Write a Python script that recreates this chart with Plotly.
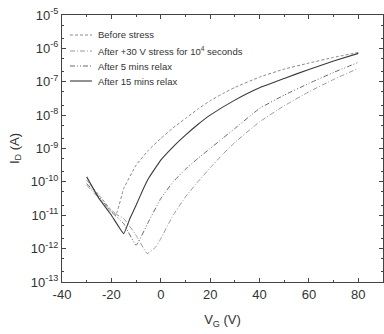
import plotly.graph_objects as go

# Gate voltage (V) and log10 drain current (A) for each curve
v_before = [-30, -25, -20, -18, -15, -10, -5, 0, 5, 10, 15, 20, 25, 30, 40, 50, 60, 70, 80]
logi_before = [-9.95, -10.4, -10.85, -10.95, -10.2, -9.5, -9.05, -8.7, -8.38, -8.1, -7.82, -7.57,
               -7.36, -7.17, -6.86, -6.62, -6.44, -6.27, -6.12]

v_stress = [-30, -25, -20, -15, -10, -5.5, -2, 0, 5, 10, 15, 20, 25, 30, 40, 50, 60, 70, 80]
logi_stress = [-10.1, -10.5, -10.9, -11.1, -11.6, -12.15, -11.95, -11.7, -11.0, -10.45, -10.0, -9.58,
               -9.18, -8.82, -8.2, -7.72, -7.3, -6.93, -6.6]

v_5min = [-30, -25, -20, -15, -10, -5, 0, 5, 10, 15, 20, 25, 30, 40, 50, 60, 70, 80]
logi_5min = [-10.05, -10.45, -10.9, -11.25, -11.9, -11.2, -10.5, -10.0, -9.62, -9.3, -9.0, -8.7,
             -8.4, -7.8, -7.4, -7.05, -6.72, -6.42]

v_15min = [-30, -25, -20, -15, -12.5, -10, -7, -5, 0, 5, 10, 15, 20, 30, 40, 50, 60, 70, 80]
logi_15min = [-9.85, -10.5, -11.0, -11.55, -11.1, -10.7, -10.2, -9.9, -9.35, -8.95, -8.6, -8.28,
              -8.0, -7.55, -7.18, -6.9, -6.63, -6.38, -6.15]

series_names = ["Before stress", "After +30 V stress for 10<sup>4</sup> seconds",
                "After 5 mins relax", "After 15 mins relax"]

x_ticks = [-40, -20, 0, 20, 40, 60, 80]
y_exps = [-13, -12, -11, -10, -9, -8, -7, -6, -5]

styles = [("#8a8a8a", "3px,2px", 1.0), ("#9a9a9a", "5px,2px,1px,2px", 1.0),
          ("#6a6a6a", "5px,2px,1px,2px,1px,2px", 1.0), ("#3a3a3a", "solid", 1.1)]
data = [(v_before, logi_before), (v_stress, logi_stress), (v_5min, logi_5min), (v_15min, logi_15min)]

fig = go.Figure()
for (vx, ly), name, (col, dash, w) in zip(data, series_names, styles):
    fig.add_trace(go.Scatter(
        x=vx, y=[10 ** v for v in ly], mode="lines", name=name, showlegend=False,
        line=dict(color=col, dash=dash, width=w, shape="spline", smoothing=0.3),
    ))

# Manual legend (inside the plot area, top-left); paper coords span the plot area
W, H = 384, 334
PL, PR, PT, PB = 62, 383, 15, 282
def px_to_paper_x(px):
    return (px - PL) / (PR - PL)
def px_to_paper_y(py):
    return (PB - py) / (PB - PT)

legend_rows = [35, 51, 66, 81]
for (col, dash, w), name, py in zip(styles, series_names, legend_rows):
    yp = px_to_paper_y(py)
    fig.add_shape(type="line", xref="paper", yref="paper",
                  x0=px_to_paper_x(70), x1=px_to_paper_x(92), y0=yp, y1=yp,
                  line=dict(color=col, dash=dash, width=w))
    fig.add_annotation(xref="paper", yref="paper", x=px_to_paper_x(96), y=yp,
                       xanchor="left", yanchor="middle", showarrow=False,
                       text=name, font=dict(size=9.5, color="#333333"))

axis_col = "#444444"
fig.update_layout(
    width=W, height=H,
    margin=dict(l=PL, r=W - PR, t=PT, b=H - PB),
    paper_bgcolor="white", plot_bgcolor="white",
    font=dict(family="Liberation Sans, Arial, sans-serif", color="#333333", size=12),
    showlegend=False,
    xaxis=dict(
        range=[-40, 90], tickvals=x_ticks, ticktext=[str(t) for t in x_ticks],
        ticks="inside", ticklen=4, tickcolor=axis_col,
        minor=dict(dtick=10, tick0=-40, ticks="inside", ticklen=2, tickcolor=axis_col),
        showline=True, linecolor=axis_col, linewidth=1, mirror="ticks",
        showgrid=False, zeroline=False, tickfont=dict(size=13),
        title=dict(text="V<sub>G</sub> (V)", font=dict(size=13), standoff=14),
    ),
    yaxis=dict(
        type="log", range=[-13, -5],
        tickvals=[10 ** e for e in y_exps],
        ticktext=["10<sup>%d</sup>" % e for e in y_exps],
        ticks="inside", ticklen=4, tickcolor=axis_col,
        minor=dict(ticks="inside", ticklen=2, tickcolor=axis_col),
        showline=True, linecolor=axis_col, linewidth=1, mirror="ticks",
        showgrid=False, zeroline=False, tickfont=dict(size=13),
        title=dict(text="I<sub>D</sub> (A)", font=dict(size=13), standoff=8),
    ),
)

fig.write_html("out.html")
